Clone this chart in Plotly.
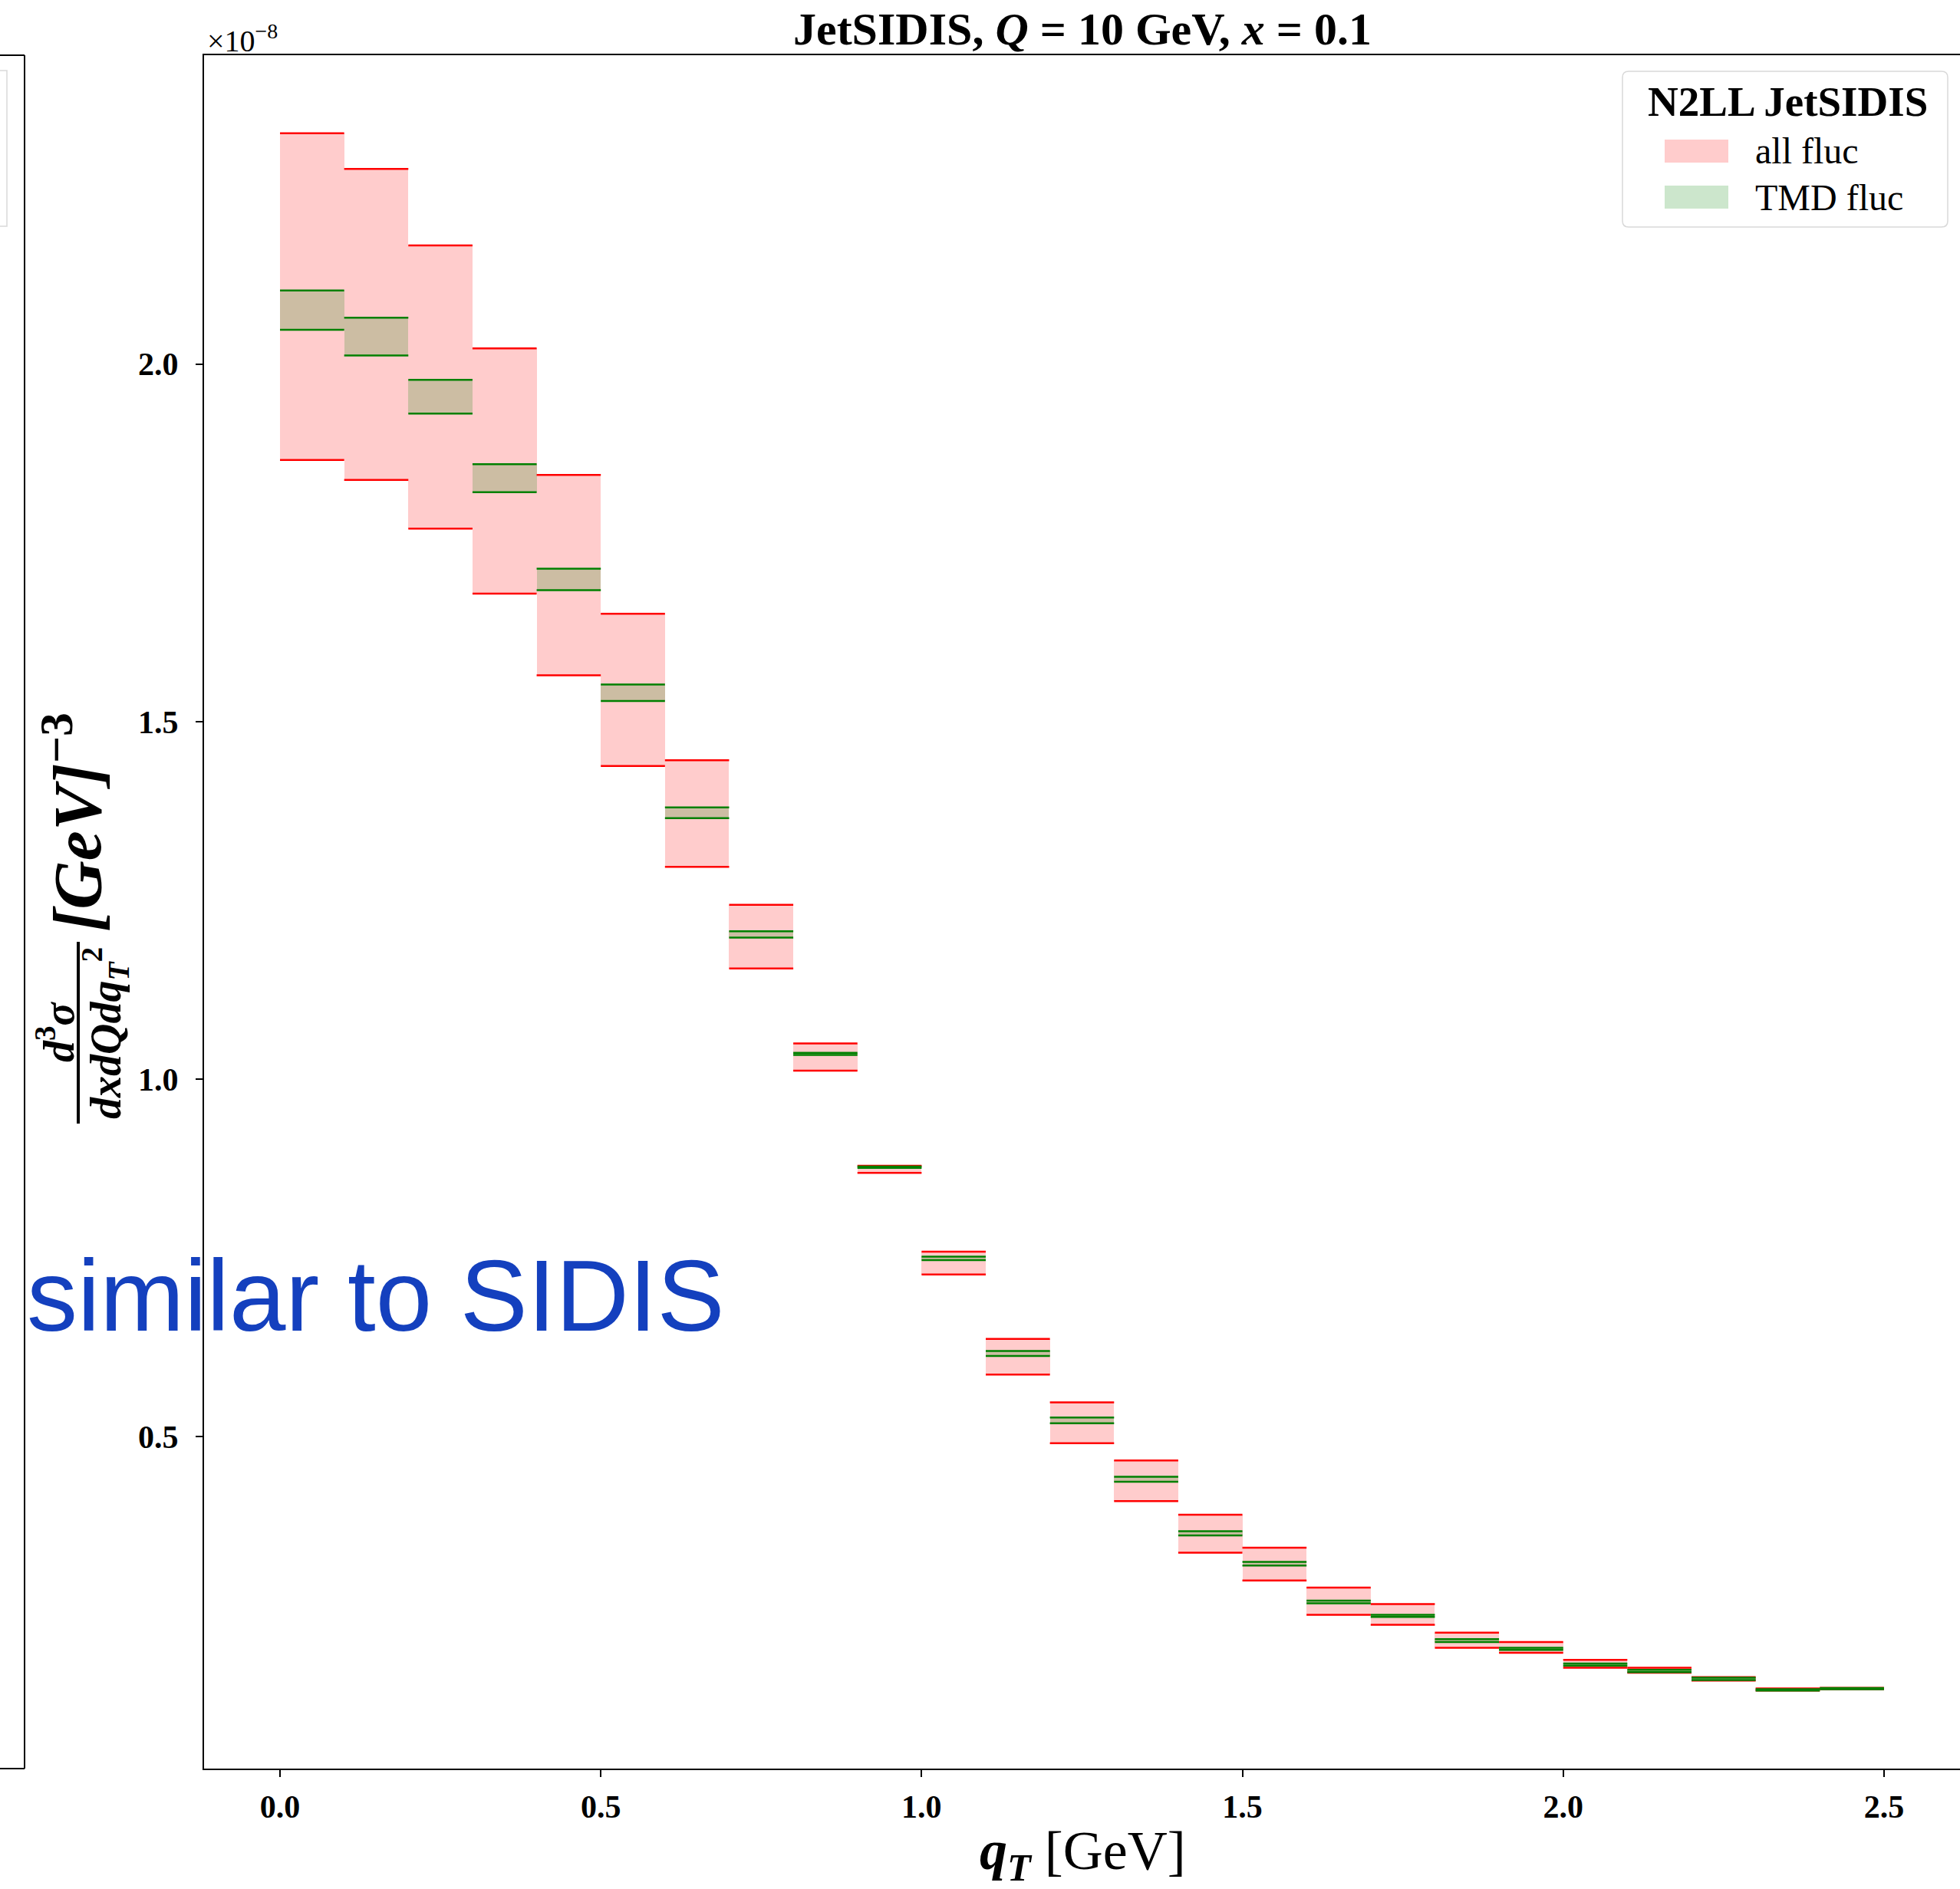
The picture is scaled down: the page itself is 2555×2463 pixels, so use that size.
import plotly.graph_objects as go

# ---------------- data (cross section in units of 1e-8) ----------------
qt_low = [0.0, 0.1, 0.2, 0.3, 0.4, 0.5, 0.6, 0.7, 0.8, 0.9, 1.0, 1.1, 1.2,
          1.3, 1.4, 1.5, 1.6, 1.7, 1.8, 1.9, 2.0, 2.1, 2.2, 2.3, 2.4]
qt_high = [0.1, 0.2, 0.3, 0.4, 0.5, 0.6, 0.7, 0.8, 0.9, 1.0, 1.1, 1.2, 1.3,
           1.4, 1.5, 1.6, 1.7, 1.8, 1.9, 2.0, 2.1, 2.2, 2.3, 2.4, 2.5]

all_hi = [2.323, 2.273, 2.166, 2.022, 1.845, 1.651, 1.446, 1.244, 1.050, 0.879,
          0.759, 0.637, 0.548, 0.467, 0.391, 0.345, 0.289, 0.266, 0.226, 0.213,
          0.188, 0.177, 0.164, 0.148, 0.149]
all_lo = [1.866, 1.838, 1.770, 1.679, 1.565, 1.438, 1.297, 1.155, 1.012, 0.869,
          0.727, 0.587, 0.491, 0.410, 0.338, 0.299, 0.251, 0.237, 0.205, 0.198,
          0.177, 0.170, 0.159, 0.145, 0.147]
tmd_hi = [2.103, 2.065, 1.978, 1.860, 1.714, 1.552, 1.380, 1.207, 1.037, 0.878,
          0.752, 0.620, 0.527, 0.444, 0.368, 0.325, 0.271, 0.251, 0.217, 0.205,
          0.183, 0.174, 0.163, 0.147, 0.1485]
tmd_lo = [2.048, 2.012, 1.931, 1.821, 1.684, 1.529, 1.365, 1.198, 1.034, 0.876,
          0.747, 0.613, 0.519, 0.437, 0.362, 0.320, 0.267, 0.248, 0.213, 0.202,
          0.180, 0.171, 0.160, 0.145, 0.147]

x_ticks = [0.0, 0.5, 1.0, 1.5, 2.0, 2.5]
y_ticks = [0.5, 1.0, 1.5, 2.0]

# ---------------- figure geometry (pixels) ----------------
W, H = 2555, 2463
AX_L, AX_T, AX_B = 266, 72, 2306


def px(x):
    return x / W


def py(y):
    return 1 - y / H


SERIF = "Liberation Serif"
RED_FILL = "rgba(255,0,0,0.2)"
GREEN_FILL = "rgba(0,128,0,0.2)"

fig = go.Figure()

centers = [(a + b) / 2 for a, b in zip(qt_low, qt_high)]
widths = [b - a for a, b in zip(qt_low, qt_high)]


def add_band(lo, hi, fill, name):
    fig.add_trace(go.Bar(
        x=centers, y=[h - l for h, l in zip(hi, lo)], base=lo, width=widths,
        marker=dict(color=fill, line=dict(width=0)), name=name,
        showlegend=False, hoverinfo="skip"))


def edge_lines(lo, hi):
    xs, ys = [], []
    for a, b, l, h in zip(qt_low, qt_high, lo, hi):
        xs += [a, b, None, a, b, None]
        ys += [h, h, None, l, l, None]
    return xs, ys


add_band(all_lo, all_hi, RED_FILL, "all fluc")
add_band(tmd_lo, tmd_hi, GREEN_FILL, "TMD fluc")

rx, ry = edge_lines(all_lo, all_hi)
fig.add_trace(go.Scatter(x=rx, y=ry, mode="lines", line=dict(color="red", width=2.5),
                         showlegend=False, hoverinfo="skip"))
gx, gy = edge_lines(tmd_lo, tmd_hi)
fig.add_trace(go.Scatter(x=gx, y=gy, mode="lines", line=dict(color="green", width=2.5),
                         showlegend=False, hoverinfo="skip"))

tickfont = dict(family=SERIF, size=42, color="black", weight="bold")

fig.update_layout(
    width=W, height=H, template="none",
    margin=dict(l=0, r=0, t=0, b=0),
    paper_bgcolor="white", plot_bgcolor="white",
    barmode="overlay", bargap=0, showlegend=False,
    xaxis=dict(domain=[px(AX_L), 1], range=[-0.1184, 2.6185],
               tickvals=x_ticks, ticktext=[f"{v:.1f}" for v in x_ticks],
               ticks="outside", ticklen=9, tickwidth=2, tickcolor="black",
               showline=True, linewidth=2, linecolor="black", mirror=True,
               showgrid=False, zeroline=False, tickfont=tickfont,
               ticklabelstandoff=3, automargin=False),
    yaxis=dict(domain=[py(AX_B), py(AX_T)], range=[0.036, 2.432],
               tickvals=y_ticks, ticktext=[f"{v:.1f}" for v in y_ticks],
               ticks="outside", ticklen=9, tickwidth=2, tickcolor="black",
               showline=True, linewidth=2, linecolor="black", mirror=False,
               showgrid=False, zeroline=False, tickfont=tickfont,
               ticklabelstandoff=14, automargin=False),
)

shapes = []
# partial neighbouring panel on the far left
for (x0, y0, x1, y1) in [(32, AX_T, 32, AX_B), (-5, AX_T, 32, AX_T), (-5, AX_B, 32, AX_B)]:
    shapes.append(dict(type="line", xref="paper", yref="paper",
                       x0=px(x0), y0=py(y0), x1=px(x1), y1=py(y1),
                       line=dict(color="black", width=2)))
shapes.append(dict(type="rect", xref="paper", yref="paper",
                   x0=px(-40), y0=py(92), x1=px(9), y1=py(295),
                   line=dict(color="#d9d9d9", width=1.5), fillcolor="white"))

# legend box (rounded)
lx0, lx1, ly0, ly1, r = 2115, 2539, 93, 296, 8


def P(x, y):
    return f"{px(x)},{py(y)}"


path = (f"M {P(lx0 + r, ly0)} L {P(lx1 - r, ly0)} Q {P(lx1, ly0)} {P(lx1, ly0 + r)} "
        f"L {P(lx1, ly1 - r)} Q {P(lx1, ly1)} {P(lx1 - r, ly1)} "
        f"L {P(lx0 + r, ly1)} Q {P(lx0, ly1)} {P(lx0, ly1 - r)} "
        f"L {P(lx0, ly0 + r)} Q {P(lx0, ly0)} {P(lx0 + r, ly0)} Z")
shapes.append(dict(type="path", xref="paper", yref="paper", path=path,
                   line=dict(color="#d9d9d9", width=1.5), fillcolor="rgba(255,255,255,0.8)"))
shapes.append(dict(type="rect", xref="paper", yref="paper",
                   x0=px(2170), x1=px(2253), y0=py(182), y1=py(212),
                   line=dict(width=0), fillcolor=RED_FILL))
shapes.append(dict(type="rect", xref="paper", yref="paper",
                   x0=px(2170), x1=px(2253), y0=py(242), y1=py(272),
                   line=dict(width=0), fillcolor=GREEN_FILL))
# fraction bar of the y label
shapes.append(dict(type="line", xref="paper", yref="paper",
                   x0=px(102), x1=px(102), y0=py(1228), y1=py(1465),
                   line=dict(color="black", width=4)))
fig.update_layout(shapes=shapes)


def ann(text, x, y, size, xanchor="center", yanchor="middle", angle=0,
        family=SERIF, color="black"):
    fig.add_annotation(text=text, x=px(x), y=py(y), xref="paper", yref="paper",
                       showarrow=False, xanchor=xanchor, yanchor=yanchor,
                       textangle=angle, font=dict(family=family, size=size, color=color))


ann("<b>JetSIDIS, <i>Q</i> = 10 GeV, <i>x</i> = 0.1</b>", 1411, 38, 60)
ann("×10<sup>−8</sup>", 268, 50, 40, xanchor="left")
ann("<b>N2LL JetSIDIS</b>", 2330, 132, 55)
ann("all fluc", 2286, 197, 48, xanchor="left")
ann("TMD fluc", 2286, 257, 48, xanchor="left")
ann("<b><i>q</i><sub><i>T</i></sub></b> [GeV]", 1411, 2418, 72)
ann("<b><i>d</i><sup>3</sup><i>σ</i></b>", 72, 1345, 56, angle=-90)
ann("<b><i>dxdQdq</i><sub><i>T</i></sub><sup>2</sup></b>", 137, 1347, 56, angle=-90)
ann("<b><i>[GeV]</i><sup>−3</sup></b>", 94, 1072, 88, angle=-90)
ann("similar to SIDIS", 33, 1689, 132, xanchor="left", family="Liberation Sans",
    color="#1440BE")

fig.write_html("out.html")
